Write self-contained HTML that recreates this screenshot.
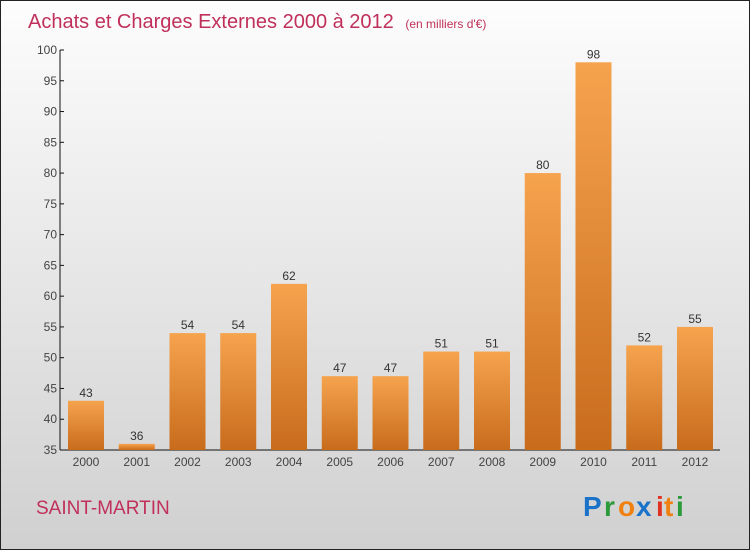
<!DOCTYPE html>
<html><head><meta charset="utf-8"><style>
html,body{margin:0;padding:0}
body{width:750px;height:550px;overflow:hidden;font-family:"Liberation Sans",sans-serif}
</style></head><body>
<svg width="750" height="550" xmlns="http://www.w3.org/2000/svg">
<defs>
<linearGradient id="bg" x1="0" y1="0" x2="0" y2="1"><stop offset="0" stop-color="#fdfdfd"/><stop offset="1" stop-color="#d0d0d0"/></linearGradient>
<linearGradient id="bar" x1="0" y1="0" x2="0" y2="1"><stop offset="0" stop-color="#f6a34e"/><stop offset="1" stop-color="#c86c1c"/></linearGradient>
</defs>
<rect x="0.5" y="0.5" width="749" height="549" fill="url(#bg)" stroke="#222"/>
<text x="28" y="28" font-size="20" fill="#c0305a">Achats et Charges Externes 2000 à 2012 <tspan font-size="12" dx="6">(en milliers d'€)</tspan></text>
<g id="axes"></g>
<g id="bars"></g>
<text x="36" y="514" font-size="19" fill="#c0305a">SAINT-MARTIN</text>
<g font-size="28" font-weight="bold">
<text x="583" y="516" fill="#1a73c8">P</text><text x="604" y="516" fill="#2a9a3a">r</text><text x="618" y="516" fill="#f08010">o</text><text x="636" y="516" fill="#1a73c8">x</text><text x="656" y="516" fill="#e03020">i</text><text x="664" y="516" fill="#f08010">t</text><text x="676" y="516" fill="#2a9a3a">i</text>
</g>
</svg>
<script>
const categories=["2000","2001","2002","2003","2004","2005","2006","2007","2008","2009","2010","2011","2012"];
const values=[43,36,54,54,62,47,47,51,51,80,98,52,55];
const yTicks=[35,40,45,50,55,60,65,70,75,80,85,90,95,100];
const NS="http://www.w3.org/2000/svg";
const yMin=35,yMax=100,plotTop=50,plotBottom=450;
function y(v){return plotBottom-(v-yMin)/(yMax-yMin)*(plotBottom-plotTop);}
function x(i){return 86+i*50.75;}
function mk(t,a,p){const e=document.createElementNS(NS,t);for(const k in a)e.setAttribute(k,a[k]);p.appendChild(e);return e;}
const ax=document.getElementById('axes'),bg=document.getElementById('bars');
let l=mk('line',{x1:60,y1:plotTop,x2:60,y2:plotBottom,stroke:'#111'},ax);


l=mk('line',{x1:60,y1:plotBottom,x2:720,y2:plotBottom,stroke:'#111'},ax);


yTicks.forEach(v=>{
 mk('line',{x1:60,y1:y(v),x2:64,y2:y(v),stroke:'#111'},ax);
 const t=mk('text',{x:57,y:y(v)+4,'text-anchor':'end','font-size':12,fill:'#444'},ax);
 t.textContent=v;
 
 
});
categories.forEach((c,i)=>{
 const r=mk('rect',{x:x(i)-18,y:y(values[i]),width:36,height:plotBottom-y(values[i]),fill:'url(#bar)'},bg);
 
 
 const v=mk('text',{x:x(i),y:y(values[i])-4,'text-anchor':'middle','font-size':12,fill:'#333'},bg);
 v.textContent=values[i];
 
 
 const t=mk('text',{x:x(i),y:466,'text-anchor':'middle','font-size':12,fill:'#444'},ax);
 t.textContent=c;
 
 
});
</script>
</body></html>
